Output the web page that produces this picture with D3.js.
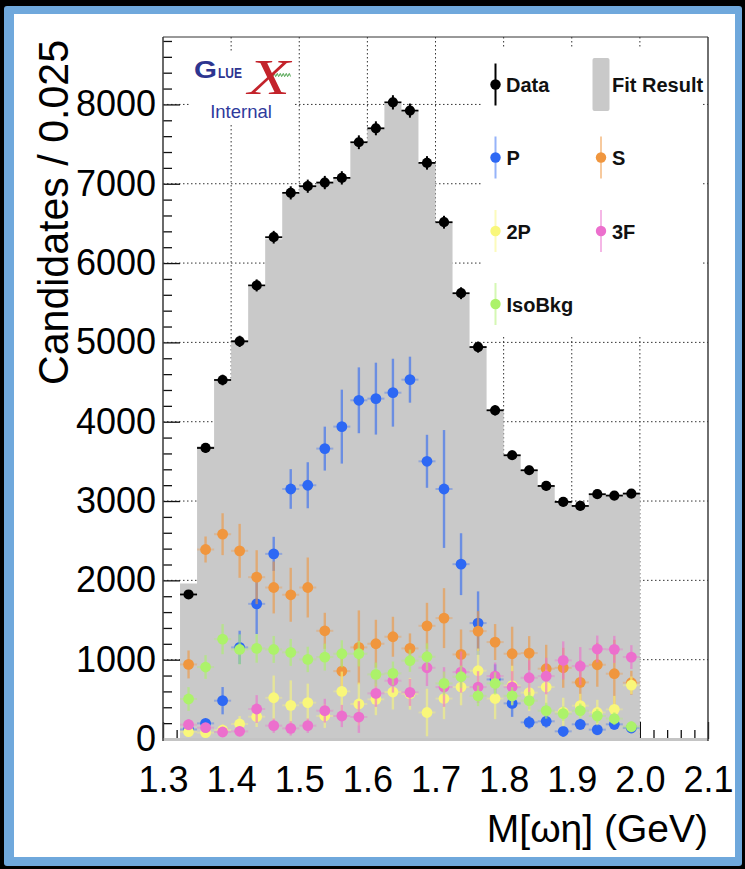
<!DOCTYPE html>
<html>
<head>
<meta charset="utf-8">
<script src="https://cdn.jsdelivr.net/npm/d3@7"></script>
<style>
  html, body { margin: 0; padding: 0; background: #000; }
  svg { display: block; }
</style>
</head>
<body>
<script>
// M(omega eta) bin centres, 0.025 GeV wide bins from 1.325 to 2.0 GeV
const binCenters = [1.3375, 1.3625, 1.3875, 1.4125, 1.4375, 1.4625, 1.4875, 1.5125, 1.5375,
  1.5625, 1.5875, 1.6125, 1.6375, 1.6625, 1.6875, 1.7125, 1.7375, 1.7625, 1.7875,
  1.8125, 1.8375, 1.8625, 1.8875, 1.9125, 1.9375, 1.9625, 1.9875];
const binWidth = 0.025;

// Measured candidates and their statistical errors
const dataCounts = [1822, 3669, 4526, 5013, 5718, 6326, 6885, 6969, 7015, 7074, 7523, 7699, 8026,
  7922, 7263, 6515, 5620, 4941, 4144, 3577, 3388, 3190, 2989, 2938, 3086, 3069, 3094];
const dataErrors = [43, 61, 67, 71, 76, 80, 83, 83, 84, 84, 87, 88, 90, 89, 85, 81, 75, 70, 64,
  60, 58, 56, 55, 54, 56, 55, 56];

// Total fit result
const fitResult = [1960, 3690, 4520, 5030, 5700, 6300, 6870, 6960, 7010, 7080, 7510, 7690, 8010,
  7910, 7260, 6510, 5620, 4950, 4150, 3580, 3390, 3190, 2990, 2940, 3080, 3070, 3090];

// Partial-wave components
const waveP = [120, 197, 483, 1155, 1704, 2334, 3152, 3199, 3661, 3938, 4270, 4291, 4366, 4530,
  3501, 3152, 2204, 1461, 751, 449, 210, 223, 97, 185, 118, 185, 140];
const wavePErr = [40, 50, 172, 210, 380, 215, 250, 290, 277, 466, 415, 453, 428, 290, 334, 743,
  390, 400, 190, 170, 80, 80, 70, 70, 70, 70, 70];

const waveS = [940, 2389, 2582, 2372, 2040, 1910, 1818, 1910, 1364, 856, 1155, 1201, 1289, 1142,
  1427, 1524, 1066, 1360, 1222, 1075, 1083, 886, 898, 714, 936, 823, 709];
const waveSErr = [176, 164, 264, 340, 340, 327, 340, 378, 227, 189, 466, 302, 252, 189, 290, 378,
  315, 252, 227, 340, 214, 302, 252, 277, 277, 428, 151];

const wave2P = [92, 80, 113, 189, 281, 520, 424, 458, 290, 600, 441, 500, 592, 570, 334, 510, 655,
  861, 510, 674, 584, 655, 340, 420, 334, 374, 678];
const wave2PErr = [60, 60, 70, 100, 130, 280, 315, 240, 150, 250, 270, 200, 220, 200, 300, 260,
  230, 280, 260, 250, 230, 220, 180, 150, 160, 170, 110];

const wave3F = [181, 143, 88, 97, 378, 168, 134, 168, 357, 290, 277, 575, 735, 588, 898, 655, 844,
  655, 793, 655, 772, 793, 991, 919, 1134, 1130, 1033];
const wave3FErr = [70, 60, 50, 60, 175, 90, 90, 90, 150, 140, 200, 170, 150, 170, 230, 250, 260,
  200, 170, 200, 220, 230, 240, 240, 170, 170, 150];

const isoBkg = [504, 907, 1259, 1129, 1142, 1129, 1092, 1003, 1033, 1075, 1075, 814, 827, 987,
  1037, 701, 785, 544, 701, 544, 483, 357, 320, 357, 290, 256, 155];
const isoBkgErr = [150, 150, 190, 190, 180, 170, 170, 160, 170, 170, 160, 150, 150, 140, 170, 150,
  140, 130, 140, 110, 110, 100, 90, 90, 90, 80, 70];

// Axis ticks
const xTicks = [1.3, 1.4, 1.5, 1.6, 1.7, 1.8, 1.9, 2.0, 2.1];
const yTicks = [0, 1000, 2000, 3000, 4000, 5000, 6000, 7000, 8000];

const components = [
  { name: "P", values: waveP, errors: wavePErr, color: "#2d68f4" },
  { name: "S", values: waveS, errors: waveSErr, color: "#f0963e" },
  { name: "2P", values: wave2P, errors: wave2PErr, color: "#f9f77a" },
  { name: "3F", values: wave3F, errors: wave3FErr, color: "#ec6fcd" },
  { name: "IsoBkg", values: isoBkg, errors: isoBkgErr, color: "#acf26a" }
];

const W = 745, H = 869;
const FONT = "'Liberation Sans', Arial, Helvetica, sans-serif";
const svg = d3.select("body").append("svg").attr("width", W).attr("height", H);

// Canvas frame
svg.append("rect").attr("width", W).attr("height", H).attr("fill", "#000");
svg.append("rect").attr("x", 4).attr("y", 6).attr("width", 738).attr("height", 860)
  .attr("rx", 3).attr("fill", "#6fa8dc");
svg.append("rect").attr("x", 14).attr("y", 14).attr("width", 721).attr("height", 843)
  .attr("fill", "#fff");

const x = d3.scaleLinear().domain([1.3, 2.1]).range([163, 708]);
const y = d3.scaleLinear().domain([0, 8850]).range([739, 37]);
const [x0, x1] = x.range();
const [yb, yt] = y.range();

// Dotted grid
const grid = svg.append("g").attr("stroke", "#333").attr("stroke-width", 1)
  .attr("stroke-dasharray", "1.5,2.5");
grid.selectAll("line.v").data(xTicks.slice(1, -1)).join("line")
  .attr("x1", d => x(d)).attr("x2", d => x(d)).attr("y1", yt).attr("y2", yb);
grid.selectAll("line.h").data(yTicks.slice(1)).join("line")
  .attr("x1", x0).attr("x2", x1).attr("y1", d => y(d)).attr("y2", d => y(d));

// Axis ticks (pointing into the frame)
const yMinor = d3.range(0, 8801, 200).filter(v => v % 1000 !== 0);
const xMinor = d3.range(1.3, 2.1001, 0.02).filter(v => Math.abs(v * 10 - Math.round(v * 10)) > 1e-6);
function tickAxis(axis, tr) {
  const g = svg.append("g").attr("transform", tr).call(axis);
  g.select(".domain").remove();
  g.selectAll("line").attr("stroke", "#111").attr("stroke-width", 1.3);
  return g;
}
tickAxis(d3.axisLeft(y).tickValues(yTicks).tickSize(-17).tickFormat(""), `translate(${x0},0)`);
tickAxis(d3.axisLeft(y).tickValues(yMinor).tickSize(-9).tickFormat(""), `translate(${x0},0)`);
tickAxis(d3.axisBottom(x).tickValues(xTicks).tickSize(-17).tickFormat(""), `translate(0,${yb})`);
tickAxis(d3.axisBottom(x).tickValues(xMinor).tickSize(-9).tickFormat(""), `translate(0,${yb})`);

// Fit result histogram
const stepPts = [];
binCenters.forEach((c, i) => {
  stepPts.push([c - binWidth / 2, fitResult[i]]);
  stepPts.push([c + binWidth / 2, fitResult[i]]);
});
svg.append("path").datum(stepPts)
  .attr("fill", "#c9c9c9")
  .attr("d", d3.area().x(d => x(d[0])).y0(yb).y1(d => y(d[1])));

// Bottom edge band
svg.append("line").attr("x1", x0).attr("x2", x1).attr("y1", yb + 0.5).attr("y2", yb + 0.5)
  .attr("stroke", "#c4c4c4").attr("stroke-width", 3);

// Frame lines
svg.append("line").attr("x1", x0).attr("x2", x0).attr("y1", yt).attr("y2", yb + 2)
  .attr("stroke", "#444").attr("stroke-width", 1.6);
svg.append("line").attr("x1", x1).attr("x2", x1).attr("y1", yt).attr("y2", yb + 2)
  .attr("stroke", "#333").attr("stroke-width", 1.4);
svg.append("line").attr("x1", x0).attr("x2", x1).attr("y1", yt).attr("y2", yt)
  .attr("stroke", "#333").attr("stroke-width", 1);

// Component points with errors
const halfBinPx = x(1.3 + binWidth / 2) - x(1.3);
components.forEach(comp => {
  const g = svg.append("g");
  const pts = binCenters.map((c, i) => ({ c, v: comp.values[i], e: comp.errors[i] }));
  g.selectAll("line.ey").data(pts).join("line")
    .attr("x1", d => x(d.c)).attr("x2", d => x(d.c))
    .attr("y1", d => y(Math.max(0, d.v - d.e))).attr("y2", d => y(d.v + d.e))
    .attr("stroke", comp.color).attr("stroke-width", 2.4).attr("stroke-opacity", 0.6);
  g.selectAll("line.ex").data(pts).join("line")
    .attr("x1", d => x(d.c) - halfBinPx).attr("x2", d => x(d.c) + halfBinPx)
    .attr("y1", d => y(d.v)).attr("y2", d => y(d.v))
    .attr("stroke", comp.color).attr("stroke-width", 2).attr("stroke-opacity", 0.35);
  g.selectAll("circle").data(pts).join("circle")
    .attr("cx", d => x(d.c)).attr("cy", d => y(d.v)).attr("r", 5.4)
    .attr("fill", comp.color);
});

// Data points
const dg = svg.append("g");
const dpts = binCenters.map((c, i) => ({ c, v: dataCounts[i], e: dataErrors[i] }));
dg.selectAll("line.ey").data(dpts).join("line")
  .attr("x1", d => x(d.c)).attr("x2", d => x(d.c))
  .attr("y1", d => y(d.v - d.e)).attr("y2", d => y(d.v + d.e))
  .attr("stroke", "#000").attr("stroke-width", 2);
dg.selectAll("line.ex").data(dpts).join("line")
  .attr("x1", d => x(d.c) - halfBinPx).attr("x2", d => x(d.c) + halfBinPx)
  .attr("y1", d => y(d.v)).attr("y2", d => y(d.v))
  .attr("stroke", "#000").attr("stroke-width", 1.8);
dg.selectAll("circle").data(dpts).join("circle")
  .attr("cx", d => x(d.c)).attr("cy", d => y(d.v)).attr("r", 5.1)
  .attr("fill", "#000");

// Legend
svg.append("rect").attr("x", 483).attr("y", 47).attr("width", 220).attr("height", 289)
  .attr("fill", "#fff");
const legend = svg.append("g").attr("font-family", FONT).attr("font-weight", "bold")
  .attr("font-size", 20).attr("fill", "#111");
function legendPoint(cx, cy, color, lineOpacity) {
  legend.append("line").attr("x1", cx).attr("x2", cx).attr("y1", cy - 21).attr("y2", cy + 21)
    .attr("stroke", color).attr("stroke-width", 2).attr("stroke-opacity", lineOpacity);
  legend.append("circle").attr("cx", cx).attr("cy", cy).attr("r", 5.2).attr("fill", color);
}
legendPoint(495.5, 84.5, "#000", 1);
legend.append("text").attr("x", 506).attr("y", 92).text("Data");
legend.append("rect").attr("x", 592.5).attr("y", 58).attr("width", 17).attr("height", 53)
  .attr("rx", 2).attr("fill", "#c9c9c9");
legend.append("text").attr("x", 612).attr("y", 92).text("Fit Result");
const legendSlots = [
  [495.5, 157.5], [601, 157.5], [495.5, 231], [601, 231], [495.5, 304]
];
components.forEach((comp, i) => {
  const [cx, cy] = legendSlots[i];
  legendPoint(cx, cy, comp.color, 0.5);
  legend.append("text").attr("x", cx + 11).attr("y", cy + 7.5).text(comp.name);
});

// GlueX logo
svg.append("rect").attr("x", 190).attr("y", 53).attr("width", 103).attr("height", 70)
  .attr("fill", "#fff");
const logo = svg.append("g").attr("font-family", FONT);
logo.append("text").attr("x", 194).attr("y", 78).attr("font-size", 23).attr("font-weight", "bold")
  .attr("fill", "#2d3590").attr("textLength", 23).attr("lengthAdjust", "spacingAndGlyphs").text("G");
logo.append("text").attr("x", 218).attr("y", 77.5).attr("font-size", 15.5).attr("font-weight", "bold")
  .attr("fill", "#2d3590").attr("textLength", 24).attr("lengthAdjust", "spacingAndGlyphs").text("LUE");
const wave = d3.range(0, 22, 0.5).map(t => [269 + t, 75 + 1.6 * Math.sin(t * 2.1)]);
logo.append("path").attr("d", d3.line()(wave)).attr("fill", "none")
  .attr("stroke", "#3c9a3c").attr("stroke-width", 0.9);
logo.append("text").attr("x", 248).attr("y", 94).attr("font-size", 50)
  .attr("font-family", "'Liberation Serif', 'DejaVu Serif', serif").attr("font-style", "italic")
  .attr("fill", "#c3232b").attr("textLength", 42).attr("lengthAdjust", "spacingAndGlyphs").text("X");
logo.append("text").attr("x", 241).attr("y", 118).attr("text-anchor", "middle")
  .attr("font-size", 18.5).attr("fill", "#2f3a9c").text("Internal");

// Tick labels
const yLab = svg.append("g").attr("transform", `translate(${x0},0)`)
  .call(d3.axisLeft(y).tickValues(yTicks).tickSize(0).tickPadding(7).tickFormat(d3.format("d")));
yLab.select(".domain").remove();
yLab.selectAll("text").attr("font-family", FONT).attr("font-size", 36).attr("fill", "#000");

const xLab = svg.append("g").attr("transform", `translate(0,${yb})`)
  .call(d3.axisBottom(x).tickValues(xTicks).tickSize(0).tickPadding(27).tickFormat(d3.format(".1f")));
xLab.select(".domain").remove();
xLab.selectAll("text").attr("font-family", FONT).attr("font-size", 36).attr("fill", "#000");

// Axis titles
svg.append("text").attr("transform", `translate(68,40) rotate(-90)`)
  .attr("text-anchor", "end").attr("font-family", FONT).attr("font-size", 43)
  .attr("textLength", 345).attr("lengthAdjust", "spacingAndGlyphs")
  .attr("fill", "#000").text("Candidates / 0.025");
svg.append("text").attr("x", 708).attr("y", 842).attr("text-anchor", "end")
  .attr("font-family", FONT).attr("font-size", 39).attr("fill", "#000").text("M[ωη] (GeV)");
</script>
</body>
</html>
